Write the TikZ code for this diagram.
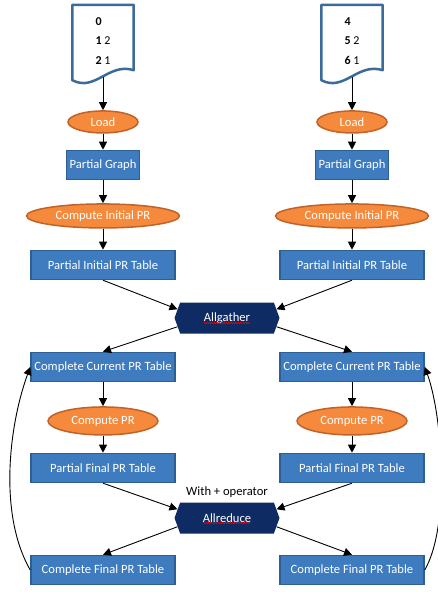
\documentclass[tikz,border=0pt]{standalone}
\usepackage{fontspec}
\setmainfont{Carlito}
\usepackage{xcolor}
\usepackage{tikz}
\usetikzlibrary{arrows.meta,positioning,shapes.geometric,shapes.symbols,decorations.pathmorphing}

\definecolor{boxblue}{HTML}{3E7BBF}
\definecolor{boxedge}{HTML}{2D5F94}
\definecolor{taskorange}{HTML}{F58A3C}
\definecolor{taskedge}{HTML}{C0622A}
\definecolor{collnavy}{HTML}{0E2C63}
\definecolor{docedge}{HTML}{3B6B9B}

\begin{document}
\begin{tikzpicture}[
    x=1pt, y=-1pt,
    font=\fontsize{12.6}{14}\selectfont,
    >={Triangle[length=8pt, width=8pt]},
    docsheet/.style={minimum width=61pt, minimum height=72pt, inner sep=0pt, align=left,
                     font=\fontsize{12}{19.5}\selectfont},
    docline/.style={draw=docedge, fill=white, line width=2.5pt, line join=round},
    procbox/.style={draw=boxedge, fill=boxblue, text=white, line width=1.5pt,
                    minimum height=29pt, inner sep=2pt},
    tablebox/.style={procbox, minimum width=144pt},
    taskell/.style={ellipse, draw=taskedge, fill=taskorange, text=white, line width=1.5pt,
                    inner sep=0pt},
    collhex/.style={signal, signal to=east and west, signal pointer angle=140,
                    fill=collnavy, text=white, minimum width=105pt, minimum height=31pt,
                    inner sep=0pt},
    flow/.style={->, line width=0.9pt},
    spell/.style={red, line width=0.5pt, decorate,
                  decoration={snake, amplitude=0.7pt, segment length=2.4pt}},
  ]
    \useasboundingbox (0,0) rectangle (438,592);

    % --- left rank ----------------------------------------------------------
    \node[docsheet] (docL) at (103,41) {};
    \draw[docline] (docL.north west) -- (docL.north east) -- ([yshift=7pt]docL.south east)
      .. controls +(-25,-8) and +(23,12) .. ([yshift=-3pt]docL.south west) -- cycle;
    \node[docsheet] at (docL) {\textbf{0}\\\textbf{1} 2\\\textbf{2} 1};

    \node[taskell, minimum width=70pt, minimum height=22pt, below=33pt of docL] (loadL) {Load};
    \node[procbox, minimum width=73pt, below=16pt of loadL] (pgL) {Partial Graph};
    \node[taskell, minimum width=153pt, minimum height=24pt, below=23pt of pgL] (ciprL)
      {Compute Initial PR};
    \node[tablebox, below=21pt of ciprL] (pitL) {Partial Initial PR Table};
    \node[tablebox, below=71.5pt of pitL] (ccptL) {Complete Current PR Table};
    \node[taskell, minimum width=110pt, minimum height=28pt, below=24pt of ccptL] (cprL)
      {Compute PR};
    \node[tablebox, below=17pt of cprL] (pfptL) {Partial Final PR Table};
    \node[tablebox, below=71.5pt of pfptL] (cfptL) {Complete Final PR Table};

    % --- right rank ---------------------------------------------------------
    \node[docsheet] (docR) at (352,41) {};
    \draw[docline] (docR.north west) -- (docR.north east) -- ([yshift=7pt]docR.south east)
      .. controls +(-25,-8) and +(23,12) .. ([yshift=-3pt]docR.south west) -- cycle;
    \node[docsheet] at (docR) {\textbf{4}\\\textbf{5} 2\\\textbf{6} 1};

    \node[taskell, minimum width=70pt, minimum height=22pt, below=33pt of docR] (loadR) {Load};
    \node[procbox, minimum width=73pt, below=16pt of loadR] (pgR) {Partial Graph};
    \node[taskell, minimum width=153pt, minimum height=24pt, below=23pt of pgR] (ciprR)
      {Compute Initial PR};
    \node[tablebox, below=21pt of ciprR] (pitR) {Partial Initial PR Table};
    \node[tablebox, below=71.5pt of pitR] (ccptR) {Complete Current PR Table};
    \node[taskell, minimum width=110pt, minimum height=28pt, below=24pt of ccptR] (cprR)
      {Compute PR};
    \node[tablebox, below=17pt of cprR] (pfptR) {Partial Final PR Table};
    \node[tablebox, below=71.5pt of pfptR] (cfptR) {Complete Final PR Table};

    % --- collectives --------------------------------------------------------
    \node[collhex] (allgather) at (227,318) {Allgather};
    \draw[spell] ([xshift=-23pt,yshift=-5pt]allgather.center)
      -- ([xshift=23pt,yshift=-5pt]allgather.center);
    \node[collhex, label={[text=black, label distance=1pt]above:With + operator}]
      (allreduce) at (227,518) {Allreduce};
    \draw[spell] ([xshift=-24pt,yshift=-5pt]allreduce.center)
      -- ([xshift=24pt,yshift=-5pt]allreduce.center);

    % --- arrows -------------------------------------------------------------
    \draw[flow] (docL.south) -- (loadL);
    \draw[flow] (loadL) -- (pgL);
    \draw[flow] (pgL) -- (ciprL);
    \draw[flow] (ciprL) -- (pitL);
    \draw[flow] (ccptL) -- (cprL);
    \draw[flow] (cprL) -- (pfptL);

    \draw[flow] (docR.south) -- (loadR);
    \draw[flow] (loadR) -- (pgR);
    \draw[flow] (pgR) -- (ciprR);
    \draw[flow] (ciprR) -- (pitR);
    \draw[flow] (ccptR) -- (cprR);
    \draw[flow] (cprR) -- (pfptR);

    \draw[flow] (pitL.south) -- (allgather.170);
    \draw[flow] (pitR.south) -- (allgather.10);
    \draw[flow] (allgather.190) -- (ccptL.north);
    \draw[flow] (allgather.350) -- (ccptR.north);

    \draw[flow] (pfptL.south) -- (allreduce.170);
    \draw[flow] (pfptR.south) -- (allreduce.10);
    \draw[flow] (allreduce.190) -- (cfptL.north);
    \draw[flow] (allreduce.350) -- (cfptR.north);

    % --- next iteration -----------------------------------------------------
    \draw[flow] (cfptL.west) to[out=120, in=250, looseness=0.8] (ccptL.west);
    \draw[flow] (cfptR.east) to[out=60, in=290, looseness=0.65] (ccptR.east);
  \end{tikzpicture}
\end{document}
